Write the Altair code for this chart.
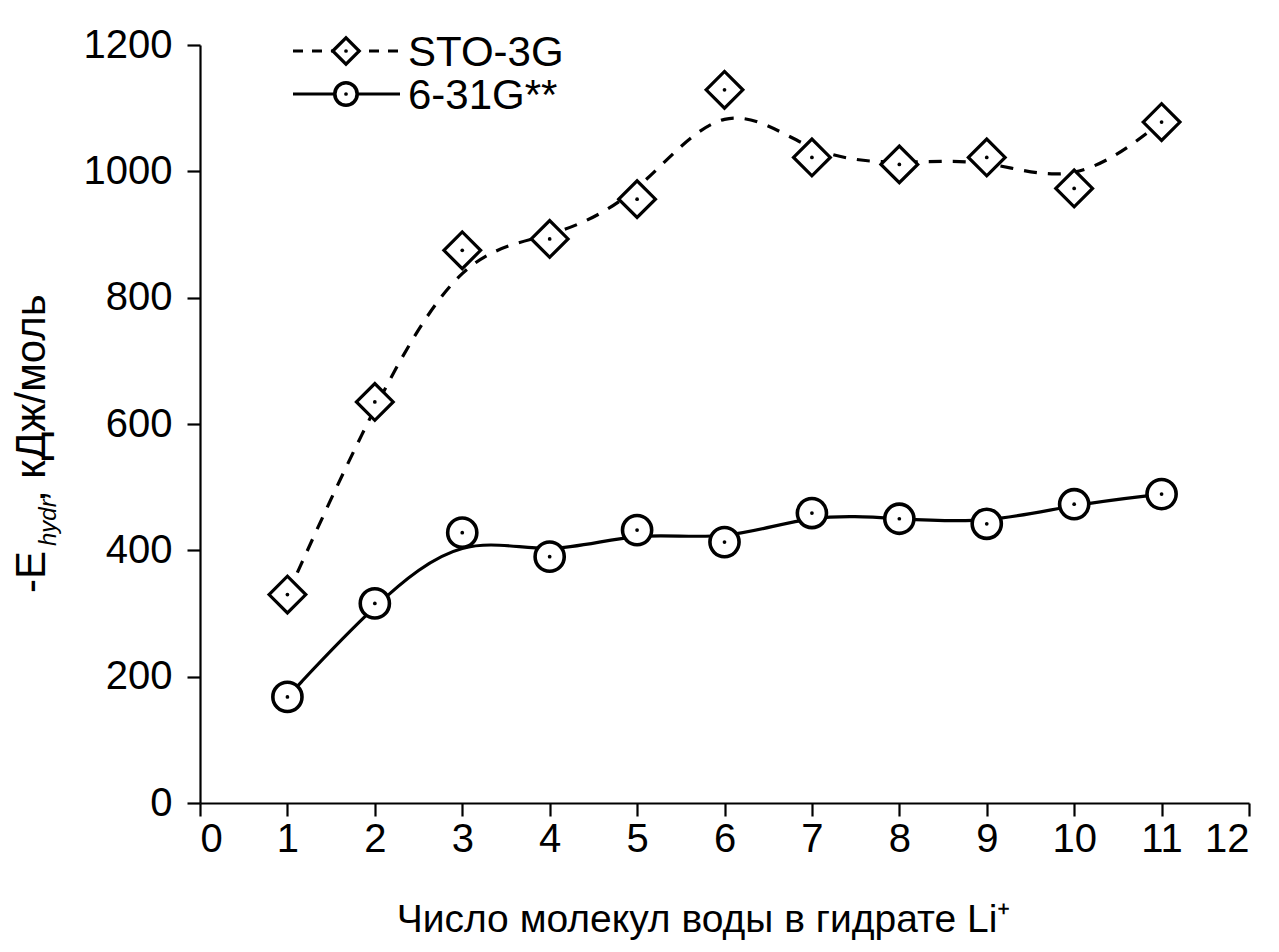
import altair as alt
import pandas as pd

# ---- data ----
n_water = [1, 2, 3, 4, 5, 6, 7, 8, 9, 10, 11]
sto3g = [330, 635, 875, 893, 956, 1129, 1022, 1011, 1022, 973, 1078]
g631 = [168, 316, 428, 390, 432, 413, 459, 450, 442, 473, 489]
series_names = ["STO-3G", "6-31G**"]
x_ticks = list(range(0, 13))
y_ticks = [0, 200, 400, 600, 800, 1000, 1200]
x_title = "Число молекул воды в гидрате Li⁺"

df = pd.DataFrame({
    "n": n_water * 2,
    "E": sto3g + g631,
    "series": [series_names[0]] * len(n_water) + [series_names[1]] * len(n_water),
})

W, H = 1049, 758
FONT = "Liberation Sans"

x_enc = alt.X("n:Q", scale=alt.Scale(domain=[0, 12], nice=False),
              axis=alt.Axis(values=x_ticks, title=x_title, format="d",
                            titleX=503, titleAnchor="start", titleAlign="center"))
y_enc = alt.Y("E:Q", scale=alt.Scale(domain=[0, 1200], nice=False),
              axis=alt.Axis(values=y_ticks, title=None, format="d"))

base = alt.Chart(df).encode(x=x_enc, y=y_enc)
sto = base.transform_filter(alt.datum.series == series_names[0])
g6 = base.transform_filter(alt.datum.series == series_names[1])

line_sto = sto.mark_line(interpolate="basis", color="black", strokeWidth=3.2,
                         strokeDash=[13, 11])
line_g6 = g6.mark_line(interpolate="basis", color="black", strokeWidth=3.2)

pt_sto = sto.mark_point(shape="diamond", size=1350, filled=True, fill="white",
                        stroke="black", strokeWidth=3.2, opacity=1)
pt_g6 = g6.mark_point(shape="circle", size=850, filled=True, fill="white",
                      stroke="black", strokeWidth=3.6, opacity=1)
dots = base.mark_point(shape="circle", size=14, filled=True, color="black", opacity=1)

# ---- legend (manual, top-left inside plot) ----
leg_df = pd.DataFrame({"series": series_names})
def leg_row(i, dash, shape, size, sw):
    row = alt.Chart(leg_df).transform_filter(alt.datum.series == series_names[i])
    yv = 6 + 43 * i
    rule_kw = dict(color="black", strokeWidth=3.2)
    if dash:
        rule_kw["strokeDash"] = dash
    r = row.mark_rule(**rule_kw).encode(x=alt.value(93), x2=alt.value(200), y=alt.value(yv))
    p = row.mark_point(shape=shape, size=size, filled=True, fill="white", stroke="black",
                       strokeWidth=sw, opacity=1).encode(x=alt.value(146), y=alt.value(yv))
    d = row.mark_point(shape="circle", size=14, filled=True, color="black",
                       opacity=1).encode(x=alt.value(146), y=alt.value(yv))
    t = row.mark_text(align="left", baseline="middle", font=FONT, fontSize=42,
                      color="black").encode(x=alt.value(208), y=alt.value(yv + 2),
                                            text="series:N")
    return r + p + d + t

legend = leg_row(0, [10, 9], "diamond", 700, 3.2) + leg_row(1, None, "circle", 500, 3.6)

# ---- y-axis title with subscript (manual rotated text) ----
ttl = alt.Chart(pd.DataFrame({"t": ["-E", "hydr", ", кДж/моль"]}))
t1 = ttl.transform_filter(alt.datum.t == "-E").mark_text(
    angle=270, align="left", baseline="alphabetic", font=FONT, fontSize=42,
    color="black").encode(x=alt.value(-155), y=alt.value(548), text="t:N")
t2 = ttl.transform_filter(alt.datum.t == "hydr").mark_text(
    angle=270, align="left", baseline="alphabetic", font=FONT, fontSize=24,
    fontStyle="italic", color="black").encode(x=alt.value(-144), y=alt.value(501), text="t:N")
t3 = ttl.transform_filter(alt.datum.t == ", кДж/моль").mark_text(
    angle=270, align="left", baseline="alphabetic", font=FONT, fontSize=42,
    color="black").encode(x=alt.value(-155), y=alt.value(457), text="t:N")

chart = alt.layer(line_sto, line_g6, pt_sto, pt_g6, dots, legend, t1, t2, t3).properties(
    width=W, height=H,
    autosize=alt.AutoSizeParams(type="none"),
    padding={"left": 192, "top": 37, "right": 22, "bottom": 141},
).configure_view(stroke=None).configure_axis(
    domainColor="black", domainWidth=2.2, tickColor="black", tickWidth=2.2,
    tickSize=13, labelFont=FONT, labelFontSize=40, labelColor="black",
    titleFont=FONT, titleFontSize=39, titleColor="black", titleFontWeight="normal",
    grid=False,
).configure_axisX(labelPadding=3, titlePadding=41).configure_axisY(labelPadding=15)

chart.save("out.html", embed_options={"renderer": "svg", "actions": False})
